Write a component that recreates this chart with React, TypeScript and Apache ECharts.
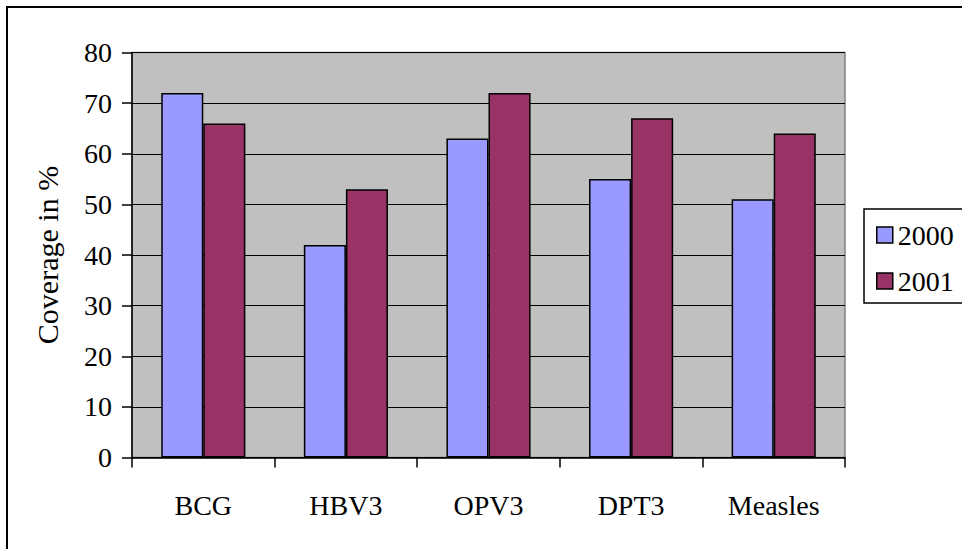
import React, { useEffect, useRef } from "react";
import * as echarts from "echarts";

const categories = ["BCG", "HBV3", "OPV3", "DPT3", "Measles"];
const series2000 = [72, 42, 63, 55, 51];
const series2001 = [66, 53, 72, 67, 64];
const seriesNames = ["2000", "2001"];
const yTitle = "Coverage in %";

const FONT = "Liberation Serif";

export default function App() {
  const ref = useRef<HTMLDivElement>(null);
  useEffect(() => {
    if (!ref.current) return;
    const chart = echarts.init(ref.current, undefined, { renderer: "svg" });
    const legendText = {
      fontFamily: FONT,
      fontSize: 28,
      color: "#000",
      rich: { t: { fontFamily: FONT, fontSize: 28, color: "#000" } },
    };
    chart.setOption({
      animation: false,
      backgroundColor: "#ffffff",
      textStyle: { fontFamily: FONT, color: "#000" },
      graphic: [
        {
          type: "rect",
          shape: { x: 7, y: 7, width: 980, height: 570 },
          style: { fill: "none", stroke: "#000", lineWidth: 2 },
          silent: true,
          z: 100,
        },
      ],
      grid: {
        left: 132,
        right: 117,
        top: 52.5,
        bottom: 91.5,
        show: true,
        backgroundColor: "#C0C0C0",
        borderColor: "#808080",
        borderWidth: 1.5,
      },
      legend: {
        orient: "vertical",
        left: 864,
        top: 209,
        padding: [12, 12, 8, 12],
        itemGap: 18,
        itemWidth: 16,
        itemHeight: 16,
        borderColor: "#000",
        borderWidth: 1.5,
        backgroundColor: "#fff",
        itemStyle: { borderColor: "#000", borderWidth: 1.5 },
        formatter: "{t|{name}}",
        textStyle: legendText,
        data: seriesNames.map((n) => ({ name: n, icon: "rect" })),
      },
      xAxis: {
        type: "category",
        data: categories,
        axisLine: { lineStyle: { color: "#000", width: 1.5 } },
        axisTick: { show: true, length: 10, lineStyle: { color: "#000", width: 1.5 } },
        axisLabel: { fontFamily: FONT, fontSize: 28, color: "#000", margin: 34 },
      },
      yAxis: {
        type: "value",
        min: 0,
        max: 80,
        interval: 10,
        name: yTitle,
        nameLocation: "middle",
        nameGap: 70,
        nameTextStyle: { fontFamily: FONT, fontSize: 30, color: "#000" },
        axisLine: { show: true, lineStyle: { color: "#000", width: 1.5 } },
        axisTick: { show: true, length: 10, lineStyle: { color: "#000", width: 1.5 } },
        axisLabel: { fontFamily: FONT, fontSize: 28, color: "#000", margin: 20 },
        splitLine: { show: true, lineStyle: { color: "#000", width: 1 } },
      },
      series: [
        {
          name: seriesNames[0],
          type: "bar",
          data: series2000,
          barGap: "0%",
          barCategoryGap: "41%",
          itemStyle: { color: "#9999FF", borderColor: "#000", borderWidth: 1.5 },
        },
        {
          name: seriesNames[1],
          type: "bar",
          data: series2001,
          barGap: "0%",
          barCategoryGap: "41%",
          itemStyle: { color: "#993366", borderColor: "#000", borderWidth: 1.5 },
        },
      ],
    });
    return () => chart.dispose();
  }, []);
  return (
    <div
      ref={ref}
      style={{ position: "fixed", left: 0, top: 0, width: 962, height: 549 }}
    />
  );
}
